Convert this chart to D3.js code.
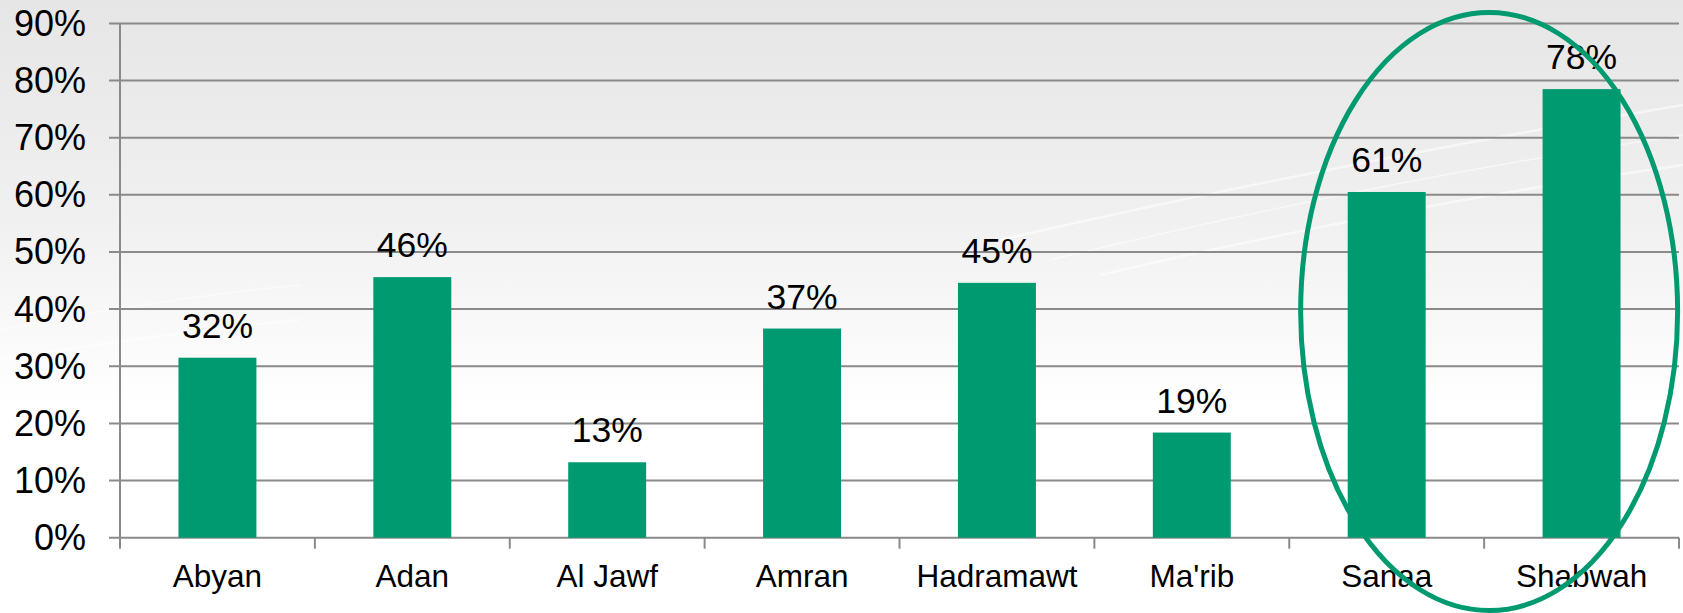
<!DOCTYPE html>
<html>
<head>
<meta charset="utf-8">
<script src="https://cdn.jsdelivr.net/npm/d3@7"></script>
<style>
  html, body { margin: 0; padding: 0; background: #fff; }
  svg { display: block; font-family: "Liberation Sans", Arial, sans-serif; }
</style>
</head>
<body>
<svg id="chart" width="1683" height="613"></svg>
<script>
const categories = ["Abyan", "Adan", "Al Jawf", "Amran", "Hadramawt", "Ma'rib", "Sanaa", "Shabwah"];
const values = [0.315, 0.456, 0.132, 0.366, 0.446, 0.184, 0.605, 0.785];
const valueLabels = ["32%", "46%", "13%", "37%", "45%", "19%", "61%", "78%"];
const yTicks = [0, 0.1, 0.2, 0.3, 0.4, 0.5, 0.6, 0.7, 0.8, 0.9];
const highlighted = ["Sanaa", "Shabwah"];

(function () {
const W = 1683, H = 613;
const plotLeft = 120, plotRight = 1679, plotTop = 23.4, plotBottom = 537.7;
const green = "#009a70";
const gridColor = "#8a8a8a";

const svg = d3.select("#chart");
const defs = svg.append("defs");
const bg = defs.append("linearGradient").attr("id", "bg").attr("x1", 0).attr("y1", 0).attr("x2", 0).attr("y2", 1);
bg.append("stop").attr("offset", "0").attr("stop-color", "#e6e6e6");
bg.append("stop").attr("offset", "0.35").attr("stop-color", "#f0f0f0");
bg.append("stop").attr("offset", "0.66").attr("stop-color", "#ffffff");
bg.append("stop").attr("offset", "1").attr("stop-color", "#ffffff");
svg.append("rect").attr("width", W).attr("height", H).attr("fill", "url(#bg)");

// faint decorative swooshes
const sw = svg.append("g").attr("fill", "none").attr("stroke", "#ffffff").attr("stroke-opacity", 0.55);
[[1000, 240, 1350, 160, 1683, 105], [1050, 260, 1380, 180, 1683, 135], [1100, 275, 1400, 205, 1683, 165],
 [0, 330, 150, 300, 300, 285], [0, 360, 150, 335, 300, 320]].forEach((p, i) => {
  sw.append("path")
    .attr("d", `M${p[0]},${p[1]} Q${p[2]},${p[3]} ${p[4]},${p[5]}`)
    .attr("stroke-width", i % 2 ? 1.5 : 2.5);
});

const x = d3.scaleBand().domain(categories).range([plotLeft, plotRight]).paddingInner(0.6).paddingOuter(0.3);
const y = d3.scaleLinear().domain([0, 0.9]).range([plotBottom, plotTop]);
const step = x.step();

// gridlines
svg.append("g").selectAll("line").data(yTicks).join("line")
  .attr("x1", plotLeft - 11).attr("x2", plotRight)
  .attr("y1", d => y(d)).attr("y2", d => y(d))
  .attr("stroke", gridColor).attr("stroke-width", 2);

// y axis line
svg.append("line").attr("x1", plotLeft).attr("x2", plotLeft).attr("y1", y(0.9)).attr("y2", plotBottom + 10)
  .attr("stroke", gridColor).attr("stroke-width", 2);

// x ticks at category boundaries
const boundaries = categories.map(c => x(c) - step * 0.3).concat([plotRight]);
svg.append("g").selectAll("line").data(boundaries).join("line")
  .attr("x1", d => d).attr("x2", d => d)
  .attr("y1", plotBottom).attr("y2", plotBottom + 11)
  .attr("stroke", gridColor).attr("stroke-width", 2);

// y labels
const fmt = d3.format(".0%");
svg.append("g").selectAll("text").data(yTicks).join("text")
  .attr("x", 86).attr("y", d => y(d) + 12.5)
  .attr("text-anchor", "end").attr("font-size", 36).attr("fill", "#000")
  .text(d => fmt(d));

// bars
svg.append("g").selectAll("rect").data(categories).join("rect")
  .attr("x", c => x(c)).attr("width", x.bandwidth())
  .attr("y", (c, i) => y(values[i])).attr("height", (c, i) => plotBottom - y(values[i]))
  .attr("fill", green);

// value labels
svg.append("g").selectAll("text").data(categories).join("text")
  .attr("x", c => x(c) + x.bandwidth() / 2)
  .attr("y", (c, i) => y(values[i]) - 20)
  .attr("text-anchor", "middle").attr("font-size", 35.5).attr("fill", "#000")
  .text((c, i) => valueLabels[i]);

// category labels
svg.append("g").selectAll("text").data(categories).join("text")
  .attr("x", c => x(c) + x.bandwidth() / 2)
  .attr("y", 586.5)
  .attr("text-anchor", "middle").attr("font-size", 31.5).attr("fill", "#000")
  .text(c => c);

// highlight ellipse around the last two categories
const hx0 = x(highlighted[0]) - step * 0.3;
const hx1 = x(highlighted[1]) + x.bandwidth() + step * 0.3;
svg.append("ellipse")
  .attr("cx", (hx0 + hx1) / 2 + 5).attr("cy", 311.5)
  .attr("rx", 188.5).attr("ry", 299)
  .attr("fill", "none").attr("stroke", green).attr("stroke-width", 5);
})();
</script>
</body>
</html>
